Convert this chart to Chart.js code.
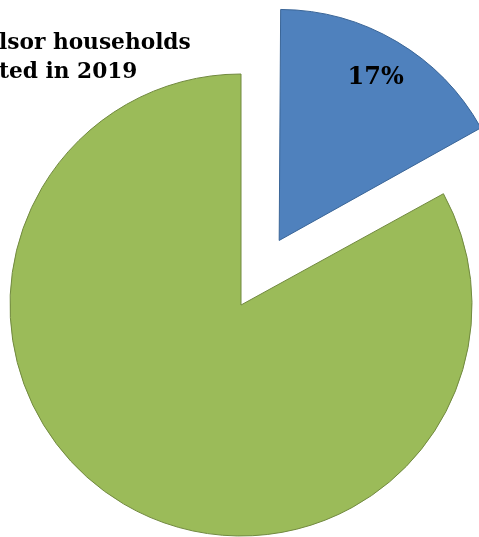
<!DOCTYPE html>
<html>
<head>
<meta charset="utf-8">
<script src="https://cdn.jsdelivr.net/npm/chart.js@4"></script>
<style>
html,body{margin:0;padding:0;background:#fff;overflow:hidden;}
#wrap{width:479px;height:537px;position:relative;}
</style>
</head>
<body>
<div id="wrap"><canvas id="c"></canvas></div>
<script>
const categories = ["Evicted", "Not evicted"];
const values = [17, 83];
const labelsShown = ["17%", ""];
const titleLines = ["lsor households", "ted in 2019"];

// Chart.js grows an exploded arc by offset/4*(1-sin(circumference)); undo that so
// the exploded slice keeps the same radius as the rest of the pie.
const keepRadiusPlugin = {
  id: 'keepRadius',
  beforeDatasetsDraw(chart) {
    const meta = chart.getDatasetMeta(0);
    meta.data.forEach(arc => {
      const off = (arc.options.offset || 0) / 4;
      if (!off) return;
      const circ = arc.circumference;
      const fix = 1 - Math.sin(Math.min(Math.PI, circ || 0));
      if (arc._baseR === undefined) arc._baseR = arc.outerRadius;
      arc.outerRadius = arc._baseR - off * fix;
    });
  }
};

const labelPlugin = {
  id: 'sliceLabels',
  afterDatasetsDraw(chart) {
    const ctx = chart.ctx;
    const meta = chart.getDatasetMeta(0);
    ctx.save();
    ctx.font = 'bold 24px "DejaVu Serif"';
    ctx.fillStyle = '#000';
    ctx.textAlign = 'center';
    ctx.textBaseline = 'middle';
    meta.data.forEach((arc, i) => {
      if (!labelsShown[i]) return;
      const off = (arc.options.offset || 0) / 4;
      const mid = (arc.startAngle + arc.endAngle) / 2;
      const cx = arc.x + Math.cos(mid) * off;
      const cy = arc.y + Math.sin(mid) * off;
      const r = (arc._baseR !== undefined ? arc._baseR : arc.outerRadius) * 0.82;
      ctx.fillText(labelsShown[i], cx + Math.cos(mid) * r, cy + Math.sin(mid) * r);
    });
    ctx.restore();
  }
};

const titlePlugin = {
  id: 'clippedTitle',
  afterDraw(chart) {
    const ctx = chart.ctx;
    ctx.save();
    ctx.font = 'bold 21.7px "DejaVu Serif"';
    ctx.fillStyle = '#000';
    ctx.textAlign = 'left';
    ctx.textBaseline = 'alphabetic';
    ctx.fillText(titleLines[0], -1, 49);
    ctx.fillText(titleLines[1], -1, 78);
    ctx.restore();
  }
};

new Chart(document.getElementById('c'), {
  type: 'pie',
  data: {
    labels: categories,
    datasets: [{
      data: values,
      backgroundColor: ['#4F81BD', '#9BBB59'],
      borderColor: ['#3A6597', '#71893F'],
      borderWidth: 1,
      offset: [300, 0],
      radius: 231
    }]
  },
  options: {
    responsive: true,
    maintainAspectRatio: false,
    animation: false,
    layout: { padding: { left: 3, top: 73, right: 0, bottom: 0 } },
    plugins: {
      legend: { display: false },
      title: { display: false },
      tooltip: { enabled: false }
    }
  },
  plugins: [keepRadiusPlugin, labelPlugin, titlePlugin]
});
</script>
</body>
</html>
